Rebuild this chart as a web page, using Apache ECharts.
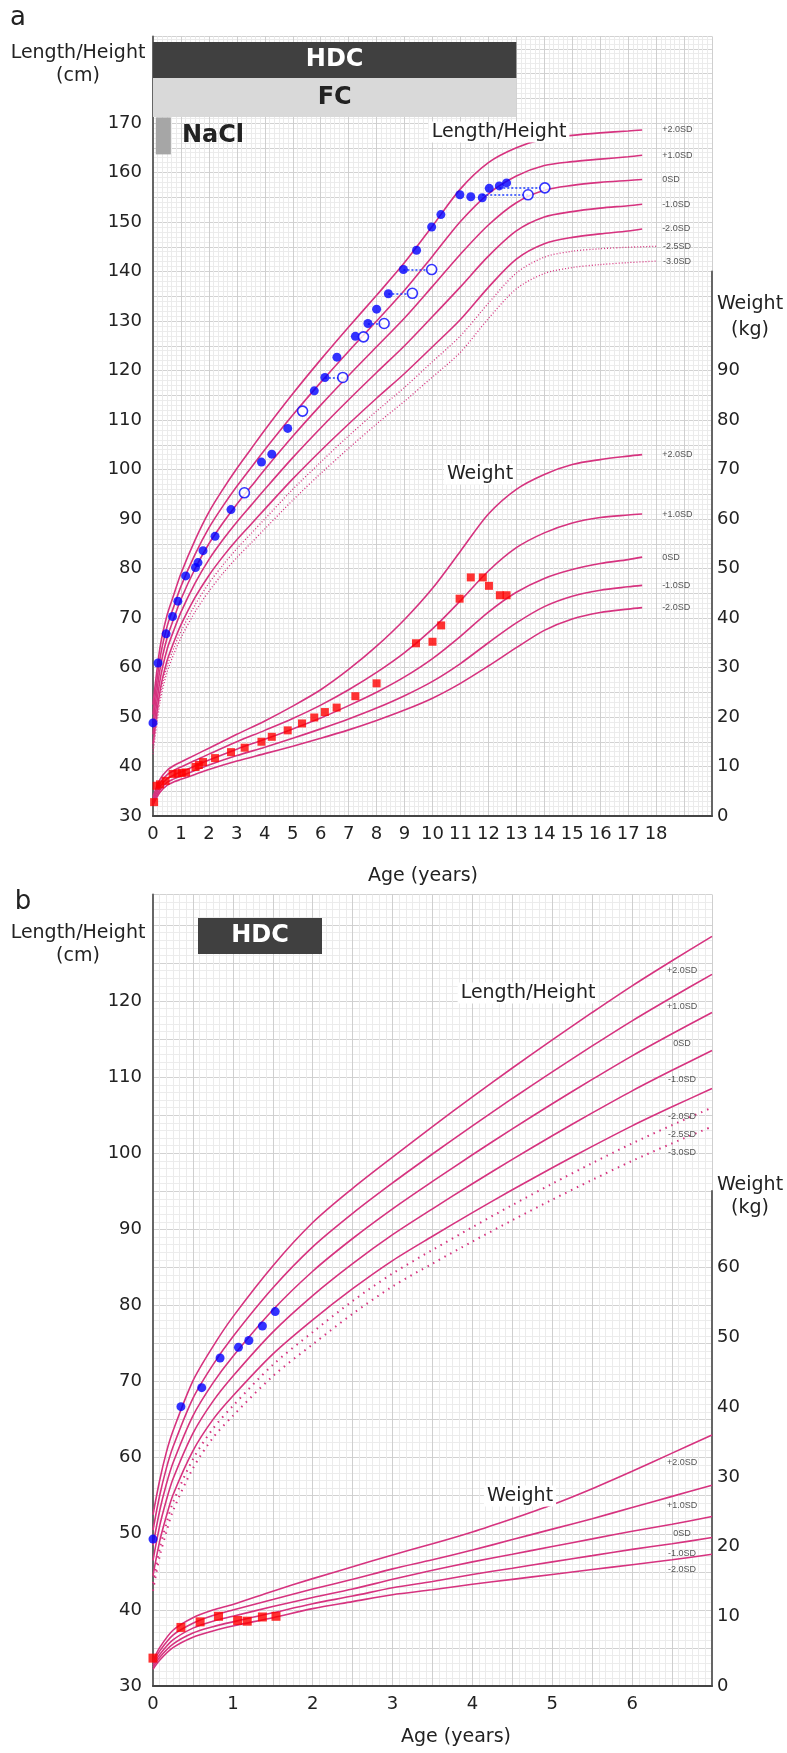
<!DOCTYPE html>
<html><head><meta charset="utf-8">
<script src="https://cdn.jsdelivr.net/npm/echarts@6/dist/echarts.min.js"></script>
<style>html,body{margin:0;padding:0;background:#fff}#c{width:787px;height:1753px}</style>
</head><body><div id="c"></div>
<script>
// ================= PANEL a : 0-18 years =================
const ageA  = [0,0.25,0.5,0.75,1,1.5,2,2.5,3,3.5,4,5,6,7,8,9,10,11,12,13,14,15,16,17,17.5];
const ageAd = [0,0.25,0.5,0.75,1,1.5,2,2.5,3,3.5,4,5,6,7,8,9,10,11,12,13,14,15,16,17,18];
const hA_p2  = [52.5,64.0,70.5,74.8,79.0,85.7,91.4,96.0,100.2,104.1,108.0,115.3,122.2,128.8,135.2,141.8,149.2,156.7,162.0,165.0,166.8,167.5,168.0,168.4,168.6];
const hA_p1  = [50.5,61.8,68.2,72.4,76.4,82.8,88.2,92.6,96.6,100.3,104.0,111.0,117.6,123.9,130.0,136.2,143.1,150.1,155.7,159.3,161.4,162.2,162.7,163.2,163.5];
const hA_0   = [48.5,59.6,65.9,70.0,73.8,79.9,85.0,89.2,93.0,96.5,100.0,106.7,113.0,119.0,124.8,130.6,137.0,143.5,149.4,153.9,156.4,157.4,158.0,158.4,158.6];
const hA_m1  = [46.5,57.4,63.6,67.6,71.2,77.0,81.8,85.8,89.4,92.7,96.0,102.4,108.4,114.1,119.6,125.0,130.9,136.9,143.1,148.2,151.0,152.1,152.8,153.3,153.6];
const hA_m2  = [44.5,55.2,61.3,65.2,68.6,74.1,78.6,82.4,85.8,88.9,92.0,98.1,103.8,109.2,114.4,119.4,124.8,130.3,136.8,142.5,145.6,146.9,147.6,148.2,148.6];
const hA_m25 = [43.5,54.1,60.2,64.0,67.3,72.6,77.0,80.7,84.0,87.0,90.0,96.0,101.5,106.8,111.8,116.6,121.8,127.0,133.6,139.7,142.9,144.1,144.6,144.9,145.1];
const hA_m3  = [42.5,53.0,59.0,62.8,66.0,71.2,75.4,79.0,82.2,85.1,88.0,93.8,99.2,104.3,109.2,113.8,118.7,123.7,130.5,136.5,139.6,140.8,141.4,141.8,142.1];

const ageW = [0,0.25,0.5,0.75,1,1.5,2,3,4,5,6,7,8,9,10,11,12,13,14,15,16,17,17.5];
const wA_p2 = [3.9,7.4,9.2,10.2,10.9,12.3,13.7,16.5,19.2,22.2,25.5,29.6,34.3,39.7,46.0,53.5,61.0,66.0,69.0,71.0,72.0,72.7,73.0];
const wA_p1 = [3.4,6.6,8.3,9.2,9.9,11.2,12.5,15.0,17.3,19.7,22.4,25.5,29.0,33.0,37.8,43.5,49.5,54.2,57.2,59.2,60.3,60.8,61.0];
const wA_0  = [3.0,5.9,7.5,8.3,8.9,10.1,11.3,13.5,15.5,17.6,19.8,22.3,25.0,28.1,31.8,36.3,41.2,45.2,48.0,49.8,51.0,51.8,52.3];
const wA_m1 = [2.6,5.3,6.8,7.5,8.1,9.2,10.3,12.2,13.9,15.7,17.6,19.6,21.8,24.3,27.2,30.8,35.0,39.0,42.3,44.4,45.6,46.3,46.6];
const wA_m2 = [2.3,4.8,6.2,6.9,7.4,8.4,9.4,11.1,12.6,14.1,15.7,17.4,19.3,21.4,23.8,26.8,30.3,34.0,37.5,39.8,41.1,41.8,42.1];

// patient (panel a)
const lenA = [[0,48.8],[0.18,60.9],[0.47,66.8],[0.70,70.3],[0.89,73.4],[1.17,78.5],[1.52,80.2],[1.61,81.2],[1.79,83.6],[2.22,86.5],[2.79,91.9],[3.88,101.5],[4.25,103.1],[4.82,108.3],[5.77,115.9],[6.15,118.6],[6.58,122.7],[7.24,126.9],[7.69,129.5],[8.0,132.4],[8.42,135.5],[8.96,140.4],[9.43,144.3],[9.97,149.0],[10.3,151.5],[10.98,155.5],[11.37,155.1],[11.78,154.9],[12.03,156.8],[12.39,157.3],[12.65,157.9]];
const boneA = [[3.27,95.3],[5.35,111.8],[6.79,118.6],[7.53,126.8],[8.27,129.5],[9.28,135.6],[9.97,140.4],[13.42,155.5],[14.02,156.9]];
const linkA = [[6.15,6.79,118.6],[7.69,8.27,129.5],[8.42,9.28,135.6],[8.96,9.97,140.4],[11.78,13.42,155.5],[12.39,14.02,156.9]];
const wtA = [[0.04,2.8],[0.13,6.1],[0.25,6.4],[0.45,7.1],[0.70,8.5],[0.88,8.6],[1.03,8.7],[1.18,8.8],[1.52,9.9],[1.64,10.3],[1.79,10.9],[2.22,11.7],[2.79,12.9],[3.28,13.8],[3.88,15.0],[4.25,16.0],[4.82,17.3],[5.33,18.7],[5.77,19.9],[6.15,21.0],[6.57,21.9],[7.24,24.2],[8.0,26.8],[9.41,34.9],[10.0,35.2],[10.31,38.5],[10.97,43.9],[11.37,48.2],[11.8,48.2],[12.02,46.5],[12.41,44.6],[12.65,44.6]];
const treatA = [['HDC',0,13],['FC',0,13],['NaCl',0.1,0.64]];

// ================= PANEL b : 0-7 years =================
const ageB = [0,0.083,0.167,0.25,0.5,0.75,1,1.5,2,2.5,3,3.5,4,4.5,5,5.5,6,6.5,7];
const hB_p2  = [52.5,57.0,60.7,63.5,70.1,74.6,78.5,85.2,90.9,95.4,99.5,103.5,107.4,111.2,114.9,118.5,122.0,125.3,128.5];
const hB_p1  = [50.5,55.0,58.6,61.4,67.8,72.2,75.9,82.3,87.7,92.1,96.1,99.9,103.6,107.2,110.7,114.1,117.4,120.5,123.5];
const hB_0   = [48.5,53.0,56.5,59.3,65.5,69.8,73.3,79.4,84.5,88.8,92.7,96.3,99.8,103.2,106.5,109.7,112.8,115.7,118.5];
const hB_m1  = [46.5,51.0,54.4,57.2,63.2,67.4,70.7,76.5,81.3,85.5,89.3,92.7,96.0,99.2,102.3,105.3,108.2,110.9,113.5];
const hB_m2  = [44.5,49.0,52.3,55.1,60.9,65.0,68.1,73.6,78.1,82.2,85.9,89.1,92.2,95.2,98.1,100.9,103.6,106.1,108.5];
const hB_m25 = [43.5,48.0,51.3,54.1,59.8,63.8,66.8,72.2,76.5,80.6,84.2,87.3,90.3,93.2,96.0,98.7,101.3,103.7,106.0];
const hB_m3  = [42.5,47.0,50.2,53.0,58.6,62.6,65.5,70.7,74.9,78.9,82.5,85.5,88.4,91.2,93.9,96.5,99.0,101.3,103.5];

const ageBw = [0,0.083,0.25,0.5,0.75,1,1.5,2,2.5,3,3.5,4,4.5,5,5.5,6,6.5,7];
const wB_p2 = [3.6,5.5,8.0,9.8,10.9,11.7,13.6,15.4,17.1,18.8,20.4,22.1,24.0,26.0,28.3,30.8,33.4,36.0];
const wB_p1 = [3.3,5.0,7.3,9.0,10.1,10.9,12.4,13.9,15.3,16.8,18.1,19.5,21.0,22.5,24.0,25.6,27.2,28.8];
const wB_0  = [3.0,4.5,6.6,8.3,9.3,10.0,11.4,12.7,13.9,15.3,16.6,17.8,18.9,20.0,21.1,22.2,23.2,24.3];
const wB_m1 = [2.7,4.1,6.0,7.6,8.5,9.2,10.5,11.8,12.9,14.1,15.0,16.0,16.9,17.8,18.7,19.6,20.4,21.3];
const wB_m2 = [2.4,3.7,5.5,7.0,7.9,8.6,9.8,11.1,12.1,13.1,13.8,14.6,15.3,16.0,16.7,17.4,18.1,18.9];

const lenB = [[0,49.3],[0.35,66.7],[0.61,69.2],[0.84,73.1],[1.07,74.5],[1.2,75.4],[1.37,77.3],[1.53,79.2]];
const wtB  = [[0,4.0],[0.35,8.4],[0.59,9.2],[0.82,10.0],[1.06,9.4],[1.18,9.3],[1.37,9.9],[1.54,10.0]];

// ================= chart =================
const FONT = 'DejaVu Sans';
const PINK = '#d6337f';
const SDFONT = {fontSize: 9, fontFamily: 'Liberation Sans', color: '#555'};
const zip = (xs, ys) => xs.map((x, i) => [x, ys[i]]);

const series = [];
function curveEnd(name, xs, ys, xi, dotted, dist) {
  series.push({
    type: 'line', xAxisIndex: xi, yAxisIndex: xi, data: zip(xs, ys),
    smooth: 0.3, showSymbol: false, silent: true, z: 3,
    lineStyle: {color: PINK, width: dotted ? 1.3 : 1.6, type: dotted ? [1, 2] : 'solid'},
    endLabel: Object.assign({show: true, formatter: name, distance: dist}, SDFONT)
  });
}
function curveMid(name, xs, ys, xi, dotted, atAge) {
  const data = zip(xs, ys).map((p) => p[0] === atAge
    ? {value: p, label: Object.assign({show: true, formatter: name, position: 'bottom', distance: 5, offset: [10, 0]}, SDFONT)}
    : p);
  series.push({
    type: 'line', xAxisIndex: xi, yAxisIndex: xi, data,
    smooth: 0.3, showSymbol: true, showAllSymbol: true, symbol: 'circle', symbolSize: 0,
    silent: true, z: 3,
    lineStyle: {color: PINK, width: dotted ? 2 : 1.6, type: dotted ? [1.5, 5] : 'solid'}
  });
}
curveEnd('+2.0SD', ageA, hA_p2, 0, false, 20);
curveEnd('+1.0SD', ageA, hA_p1, 0, false, 20);
curveEnd('0SD',    ageA, hA_0,  0, false, 20);
curveEnd('-1.0SD', ageA, hA_m1, 0, false, 20);
curveEnd('-2.0SD', ageA, hA_m2, 0, false, 20);
curveEnd('-2.5SD', ageAd, hA_m25, 0, true, 7);
curveEnd('-3.0SD', ageAd, hA_m3,  0, true, 7);
curveEnd('+2.0SD', ageW, wA_p2, 1, false, 20);
curveEnd('+1.0SD', ageW, wA_p1, 1, false, 20);
curveEnd('0SD',    ageW, wA_0,  1, false, 20);
curveEnd('-1.0SD', ageW, wA_m1, 1, false, 20);
curveEnd('-2.0SD', ageW, wA_m2, 1, false, 20);

curveMid('+2.0SD', ageB, hB_p2, 2, false, 6.5);
curveMid('+1.0SD', ageB, hB_p1, 2, false, 6.5);
curveMid('0SD',    ageB, hB_0,  2, false, 6.5);
curveMid('-1.0SD', ageB, hB_m1, 2, false, 6.5);
curveMid('-2.0SD', ageB, hB_m2, 2, false, 6.5);
curveMid('-2.5SD', ageB, hB_m25, 2, true, 6.5);
curveMid('-3.0SD', ageB, hB_m3,  2, true, 6.5);
curveMid('+2.0SD', ageBw, wB_p2, 3, false, 6.5);
curveMid('+1.0SD', ageBw, wB_p1, 3, false, 6.5);
curveMid('0SD',    ageBw, wB_0,  3, false, 6.5);
curveMid('-1.0SD', ageBw, wB_m1, 3, false, 6.5);
curveMid('-2.0SD', ageBw, wB_m2, 3, false, 6.5);

// patient marks
series.push({type: 'lines', coordinateSystem: 'cartesian2d', xAxisIndex: 0, yAxisIndex: 0, z: 8, silent: true,
  data: linkA.map(l => ({coords: [[l[0], l[2]], [l[1], l[2]]]})),
  lineStyle: {color: '#2040ff', width: 1.5, type: [2, 2], opacity: 1}});
series.push({type: 'scatter', xAxisIndex: 0, yAxisIndex: 0, data: lenA, symbol: 'circle', symbolSize: 9, z: 10,
  itemStyle: {color: '#0000ff'}});
series.push({type: 'scatter', xAxisIndex: 0, yAxisIndex: 0, data: boneA, symbol: 'circle', symbolSize: 10, z: 11,
  itemStyle: {color: '#ffffff', borderColor: '#0000ff', borderWidth: 1.6}});
series.push({type: 'scatter', xAxisIndex: 1, yAxisIndex: 1, data: wtA, symbol: 'rect', symbolSize: 8, z: 10,
  itemStyle: {color: '#ff0000'}});
series.push({type: 'scatter', xAxisIndex: 2, yAxisIndex: 2, data: lenB, symbol: 'circle', symbolSize: 9, z: 10,
  itemStyle: {color: '#0000ff'}});
series.push({type: 'scatter', xAxisIndex: 3, yAxisIndex: 3, data: wtB, symbol: 'rect', symbolSize: 9, z: 10,
  itemStyle: {color: '#ff0000'}});

// treatment period bars (panel a)
const barRows = [
  {y: 5.6, h: 36, fill: '#404040', txt: '#ffffff', inside: true},
  {y: 41.6, h: 39, fill: '#d9d9d9', txt: '#222222', inside: true},
  {y: 81, h: 37, fill: '#a6a6a6', txt: '#222222', inside: false}
];
series.push({
  type: 'custom', xAxisIndex: 0, yAxisIndex: 0, z: 20, silent: true, clip: false,
  encode: {x: [0, 1], y: 2},
  data: treatA.map(t => ({name: t[0], value: [t[1], t[2], 100]})),
  renderItem: function (params, api) {
    const r = barRows[params.dataIndex];
    const x0 = api.coord([api.value(0), 100])[0];
    const x1 = api.coord([api.value(1), 100])[0];
    const top = params.coordSys.y + r.y;
    const name = treatA[params.dataIndex][0];
    return {type: 'group', children: [
      {type: 'rect', shape: {x: x0, y: top, width: x1 - x0, height: r.h}, style: {fill: r.fill}},
      {type: 'text', style: {text: name, x: r.inside ? (x0 + x1) / 2 : x1 + 11, y: top + r.h / 2,
        align: r.inside ? 'center' : 'left', verticalAlign: 'middle',
        textAlign: r.inside ? 'center' : 'left', textVerticalAlign: 'middle',
        fill: r.txt, font: 'bold 24px "DejaVu Sans"'}}
    ]};
  }
});

// ---------- axes ----------
const lbl = {color: '#222', fontSize: 18, fontFamily: FONT};
function xAx(gi, max, interval, minorN, maxLabel, show) {
  return {gridIndex: gi, type: 'value', min: 0, max: max, interval: interval, show: show,
    axisLine: {show: true, onZero: false, lineStyle: {color: '#444', width: 2}},
    axisTick: {show: false},
    axisLabel: Object.assign({margin: 9, formatter: v => (Number.isInteger(v) && v <= maxLabel) ? String(v) : ''}, lbl),
    splitLine: {show: true, lineStyle: {color: '#cfcfcf', width: 1}},
    minorTick: {show: true, splitNumber: minorN, length: 0},
    minorSplitLine: {show: true, lineStyle: {color: '#ebebeb', width: 1}}};
}
function yAx(gi, min, max, maxLabel) {
  return {gridIndex: gi, type: 'value', min: min, max: max, interval: 5, position: 'left',
    axisLine: {show: true, onZero: false, lineStyle: {color: '#666', width: 2}},
    axisTick: {show: false},
    axisLabel: Object.assign({margin: 11, formatter: v => (v % 10 === 0 && v <= maxLabel) ? String(v) : ''}, lbl),
    splitLine: {show: true, lineStyle: {color: '#d2d2d2', width: 1}},
    minorTick: {show: true, splitNumber: 5, length: 0},
    minorSplitLine: {show: true, lineStyle: {color: '#ececec', width: 1}}};
}
function yW(gi, max, maxLabel) {
  return {gridIndex: gi, type: 'value', min: 0, max: max, interval: 10, position: 'right',
    axisLine: {show: true, onZero: false, lineStyle: {color: '#666', width: 2}},
    axisTick: {show: false},
    axisLabel: Object.assign({margin: 5, formatter: v => (v <= maxLabel) ? String(v) : ''}, lbl),
    splitLine: {show: false}};
}

const T = (text, x, y, size, extra) => Object.assign({type: 'text', z: 100, silent: true,
  style: Object.assign({text, x, y, fill: '#222', font: size + 'px "DejaVu Sans"',
    textAlign: 'center', textVerticalAlign: 'middle', align: 'center', verticalAlign: 'middle'}, extra || {})});
const WB = {backgroundColor: '#ffffff', padding: [1, 3]};

const option = {
  animation: false,
  backgroundColor: '#ffffff',
  grid: [
    {left: 153, top: 36.4, width: 559, height: 779.6, outerBoundsMode: 'none'},
    {left: 153, top: 271.5, width: 559, height: 544.5, outerBoundsMode: 'none'},
    {left: 153, top: 894.5, width: 559, height: 791.5, outerBoundsMode: 'none'},
    {left: 153, top: 1191, width: 559, height: 495, outerBoundsMode: 'none'}
  ],
  xAxis: [
    xAx(0, 20, 1, 6, 18, true),
    {gridIndex: 1, type: 'value', min: 0, max: 20, show: false},
    xAx(2, 7, 0.5, 6, 6, true),
    {gridIndex: 3, type: 'value', min: 0, max: 7, show: false}
  ],
  yAxis: [
    yAx(0, 30, 187.5, 170),
    yW(1, 110, 90),
    yAx(2, 30, 134, 120),
    yW(3, 71, 60)
  ],
  graphic: [
    T('a', 18, 18, 26),
    T('Length/Height', 78, 53, 19), T('(cm)', 78, 76, 19),
    T('Weight', 750, 304, 19), T('(kg)', 750, 330, 19),
    T('Length/Height', 499, 132, 19, WB),
    T('Weight', 480, 474, 19, WB),
    T('Age (years)', 423, 876, 19),
    T('b', 23, 902, 26),
    T('Length/Height', 78, 933, 19), T('(cm)', 78, 956, 19),
    {type: 'rect', z: 100, silent: true, shape: {x: 198, y: 918, width: 124, height: 36}, style: {fill: '#404040'}},
    T('HDC', 260, 936, 24, {fill: '#ffffff', font: 'bold 24px "DejaVu Sans"'}),
    T('Weight', 750, 1185, 19), T('(kg)', 750, 1208, 19),
    T('Length/Height', 528, 993, 19, WB),
    T('Weight', 520, 1496, 19, WB),
    T('Age (years)', 456, 1737, 19)
  ],
  series: series
};
const chart = echarts.init(document.getElementById('c'), null, {renderer: 'canvas', width: 787, height: 1753});
chart.setOption(option);
</script></body></html>
